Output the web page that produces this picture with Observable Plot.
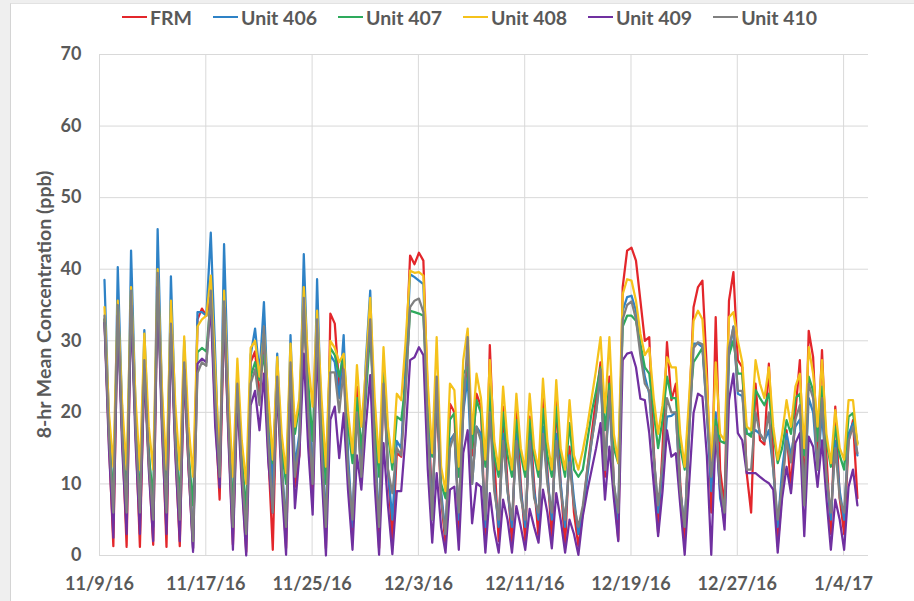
<!DOCTYPE html>
<html><head><meta charset="utf-8">
<script src="https://cdn.jsdelivr.net/npm/d3@7"></script>
<script src="https://cdn.jsdelivr.net/npm/@observablehq/plot@0.6"></script>
<style>
html,body{margin:0;padding:0;}
body{width:914px;height:601px;background:#efefef;position:relative;overflow:hidden;font-family:Lato,"Open Sans",sans-serif;}
#frame{position:absolute;left:10px;top:3px;width:904px;height:598px;background:#fff;border-left:1px solid #d4d4d4;border-top:1px solid #e2e2e2;box-sizing:border-box;}
#legend{position:absolute;top:6px;left:122px;display:flex;align-items:center;height:22px;font-weight:700;font-size:19.5px;color:#595959;white-space:nowrap;}
.item{display:flex;align-items:center;margin-right:21px;}
.sw{width:25px;height:2.5px;margin-right:3px;}
#chart{position:absolute;left:0;top:34px;}
</style></head><body>
<div id="frame"></div>
<div id="legend"></div>
<div id="chart"></div>
<script>
const seriesNames = ["FRM", "Unit 406", "Unit 407", "Unit 408", "Unit 409", "Unit 410"];
const seriesColors = ["#e3262b", "#2e82c6", "#2eaa5c", "#f5c21b", "#7030a0", "#808080"];

// 8-hr means, three per day, starting 11/9/16
const startTime = "2016-11-09T09:00:00Z";
const stepHours = 8;

const frm = [33,16,1.3, 34.5,17,1.2, 36,18,1.2, 27,13,1.5, 38.5,19,1.2, 32,15,1.3, 26.5,12,1.0,
  33,34.5,33.5, 36.1,20,7.8, 34,17,1.5, 24,11,0.5, 27,28.5,22, 30,14,0.8, 25,12,1,
  27,9.6,14, 36,20,8, 33,15,1, 33.8,32.4,23.5, 27,12,2, 23.6,12.9,24, 34.2,16,1,
  25,12,2, 14.3,13.8,27, 41.9,40.7,42.3, 41.2,22,6.4, 22,8,1.5, 21.2,20,3, 22,27,14,
  22.6,20.8,2, 29.4,14,2, 20.8,10,1.8, 20.3,10,2, 19.4,10,2.5, 22.6,12,2.2, 21.7,10,1.3,
  15.2,6,1.3, 6,12,17, 22,27,11, 25,10,2.2, 37.5,42.6,43, 41.2,35.6,30, 30.5,15,3.2,
  15,29.8,21.7, 24,10,1.8, 20,34.7,37.5, 38.4,26,6, 33.3,12,6.9, 35.6,39.6,27.3, 26.3,11.5,6,
  24,16.1,15.5, 26.8,14,1.3, 9,17.5,9.2, 20,27.3,8, 31.4,27.7,14, 28.7,14,3, 20.8,8,3, 16,18.9,8];

const u406 = [38.5,19,5, 40.3,20,5, 42.6,21,5, 31.5,15,4, 45.6,22,5, 39,19,4, 30,14,1,
  34,34,33.5, 45.1,28,10, 43.5,22,4, 26,13,3, 28,31.7,25.4, 35.4,20,9.2, 28.2,13,4,
  30.8,12.4,17, 42.1,24,10, 38.6,18,4, 28,27,22, 30.8,14,4, 22,11,27, 37,17,4,
  26,12,5, 16,15,26, 39.3,38.9,38.4, 37.9,20,5, 24,9,3, 16.1,17,5, 20,25,10,
  18,17,4, 22,10,4, 17,9,4, 17,9,4, 17,9,5, 18,11,5, 17,10,4,
  14,8,3, 6,11,16, 20,25,12, 22,10,5, 34.2,36.1,36.3, 34.2,29.1,25, 22.6,14,6,
  12,19.4,19.5, 20,9,4, 17,29.6,29.6, 29.1,20,9, 20,8,5, 28,32,22.6, 22.3,17,17,
  17.5,17,16, 17.5,12,4, 12,17,14, 18,19,8, 22,20,12, 20,11,5, 16,9,5, 17,18.5,14];

const u407 = [33,17,8, 34,17,8, 35.5,18,8, 26.5,14,8, 38,19,8, 31.5,16,8, 26.5,14,7,
  28.4,29,28.5, 36,22,12, 35,19,6, 25,14,6, 25,27,24.5, 28,21,12.9, 25,15,10,
  27,17,21, 33.8,24,16, 32,20,10, 29,28,25, 28,18,12.9, 22,15,22, 31.4,19,11,
  25,17,12, 19.4,18.9,24, 34.2,34,33.8, 33.5,21,13.8, 23.6,10,8, 19,19.9,11, 25.4,26.3,15,
  21.7,19.9,12.4, 23.6,14,11, 20,14,11, 18.9,14,11, 19,14,11, 20.5,14,11, 20.8,14,11,
  18.5,12,11, 12,16,20, 23,26.3,17.5, 24,15,12.9, 32,33.5,33.5, 32.8,29.6,26.3, 25.4,20,15,
  19,25,22, 22,15,12, 20,27,28, 29,22,12, 19,16,15.7, 28,30,25.4, 25.4,17.1,16.6,
  23.1,22,21, 22.6,17,12.9, 15,18.9,17, 22,22.6,14, 25,23,16, 23.6,16,12.4, 18,14,12, 19.4,19.9,15.7];

const u408 = [34.7,20,12.4, 35.6,21,12, 37.5,22,12, 31,18,12, 40,23,12, 35.6,21,12, 30.6,18,11,
  32,33,33.5, 39.1,26,13, 37,22,11, 27.5,16,10, 29,30,25, 31,22,13.4, 27.7,17,11.5,
  29.6,18,22, 37.5,27,20.8, 34.2,22,12.4, 30,29,27, 28.2,20,14.3, 26.6,18,26, 36,22,13,
  29.1,18,13, 22.6,21.7,30, 39.8,39.5,39.6, 39.1,24,14.3, 30.5,12.4,9, 24,23.1,12.4, 27.3,31.7,17,
  25.4,22,13.4, 27.3,16,12, 23.6,16,12, 22.6,15,12, 22.6,15,12, 24.7,16,12, 24.5,15,12,
  21.7,14,12, 14.7,18,22, 26,30.5,20, 30.5,17,12.9, 36.5,38.6,38.4, 35.6,31,28, 29,22,17,
  21,27.7,26.3, 26.3,17,12.4, 22,32.8,34.2, 33,24,12, 27,17,16.1, 33.3,34,30, 27,18,17.5,
  27.3,24,22, 26.3,18,13.4, 17,21.7,18, 23.6,25.4,15, 29.1,25.4,18, 27.3,17,12.9, 20.3,15,13.4, 21.7,21.7,15.5];

const u409 = [32.5,15,2.5, 33.5,15,3, 35,16,3, 26,12,2, 37.5,17,3, 31,14,2, 26,12,0.5,
  26.8,27.5,27, 35,18,9.5, 34.7,16,0.8, 22,10,0, 21,23,17.5, 25.4,13,6, 23.5,10,0.1,
  24,6.6,14, 28.2,15,5.7, 29.6,12,0, 19,20.8,13.6, 19.9,9,0.8, 14,9.2,18, 25.2,10,0.1,
  15.7,7,0.2, 9,9,17, 27.3,27.7,29.1, 28,12,1.8, 11.5,4,0.4, 9.2,9.6,0.8, 14.3,17.5,4.5,
  10.1,9.6,0.4, 8.7,3.6,0.4, 7.8,5,0.4, 6.9,4,0.8, 6.5,4,1.8, 9.2,6,1, 8.7,5,0.4,
  5,3,0.1, 5.5,9,12, 15,18.5,7.8, 15.2,8,2, 27.3,28.2,28.4, 26.3,21.9,21.7, 17.1,10,2.7,
  9,17.5,13.8, 14.3,7,0.1, 10,19.9,22.6, 22.2,14,0.1, 17.5,9,3.6, 21.7,25.4,17.1, 16.1,11.5,11.5,
  11.5,11,10.5, 10.1,9.2,0.4, 8,12.4,8.7, 15.7,17.1,2.7, 16.6,15.2,9.6, 16.1,8,0.8, 7.8,5,0.8, 9.6,12,7];

const u410 = [33.5,17,6, 35,17,6, 37,18,6, 27.3,13,5, 39.5,19,6, 32.4,16,5, 27,13,2,
  25.5,27,26.5, 37,22,11, 35.5,18,4, 24,12,3, 24,26,21, 32,16,6, 25,12,4,
  27,11,16, 36,20,10, 33,15,4, 25.6,25.6,20, 26,12,5, 20,11,24, 33,15,4,
  24,12,8.7, 15,14,23, 34.7,35.6,35.9, 34,18,5, 25,8,3, 15,17,6, 20,30.5,10,
  18,16,5, 20,9,5, 16,9,5, 16,8,5, 16,8,6, 17,10,6, 16,9,5,
  13,7,4, 7,12,16, 20,26,12, 23,10,6, 33,35,35.5, 33,28,24, 23,14,7,
  13,22,20, 20,9,4, 17,29,29.8, 29.5,20,11, 18,10,6, 29,31.9,23, 23,12,12,
  20,17,16, 20,12,5, 10,16,13, 19,21,7, 24,22,12, 22,11,6, 15,8,6, 16,18,14.3];

const seriesValues = [frm, u406, u407, u408, u409, u410];

const xTickDates = ["2016-11-09", "2016-11-17", "2016-11-25", "2016-12-03", "2016-12-11", "2016-12-19", "2016-12-27", "2017-01-04"];
const xTickLabels = ["11/9/16", "11/17/16", "11/25/16", "12/3/16", "12/11/16", "12/19/16", "12/27/16", "1/4/17"];
const yTicks = [0, 10, 20, 30, 40, 50, 60, 70];
const xDomain = ["2016-11-09T00:00:00Z", "2017-01-05T21:00:00Z"];
const yTitle = "8-hr Mean Concentration (ppb)";

// build table
const t0 = new Date(startTime).getTime();
const rows = [];
seriesNames.forEach((name, k) => {
  seriesValues[k].forEach((v, i) => {
    rows.push({series: name, time: new Date(t0 + i * stepHours * 3600e3), value: v});
  });
});
const tickDates = xTickDates.map(s => new Date(s + "T00:00:00Z"));
const labelByTime = new Map(tickDates.map((d, i) => [+d, xTickLabels[i]]));

// legend
const legend = document.getElementById("legend");
seriesNames.forEach((name, k) => {
  const it = document.createElement("div");
  it.className = "item";
  const sw = document.createElement("span");
  sw.className = "sw";
  sw.style.background = seriesColors[k];
  const tx = document.createElement("span");
  tx.textContent = name;
  it.appendChild(sw); it.appendChild(tx);
  legend.appendChild(it);
});

const chart = Plot.plot({
  width: 914,
  height: 567,
  marginTop: 20,
  marginBottom: 46,
  marginLeft: 99,
  marginRight: 46,
  style: {fontFamily: "Lato, 'Open Sans', sans-serif", fontSize: "18px", fontWeight: "bold", color: "#595959", background: "transparent", overflow: "visible"},
  x: {type: "utc", domain: xDomain.map(s => new Date(s))},
  y: {domain: [0, 70]},
  color: {domain: seriesNames, range: seriesColors},
  marks: [
    Plot.gridX(tickDates, {stroke: "#d9d9d9", strokeOpacity: 1, strokeWidth: 1}),
    Plot.gridY(yTicks, {stroke: "#d9d9d9", strokeOpacity: 1, strokeWidth: 1}),
    Plot.line(rows, {x: "time", y: "value", z: "series", stroke: "series", strokeWidth: 2.25, strokeLinejoin: "round"}),
    Plot.axisX(tickDates, {tickSize: 0, tickPadding: 22, tickFormat: d => labelByTime.get(+d), label: null}),
    Plot.axisY(yTicks, {tickSize: 0, tickPadding: 18, label: null})
  ]
});
document.getElementById("chart").appendChild(chart);

// y axis title
d3.select(chart).append("text")
  .attr("transform", "translate(43," + (304.5 - 34) + ") rotate(-90)")
  .attr("text-anchor", "middle")
  .attr("dominant-baseline", "central")
  .attr("fill", "#595959")
  .attr("font-size", 19.5)
  .attr("font-weight", "bold")
  .text(yTitle);
</script>
</body></html>
